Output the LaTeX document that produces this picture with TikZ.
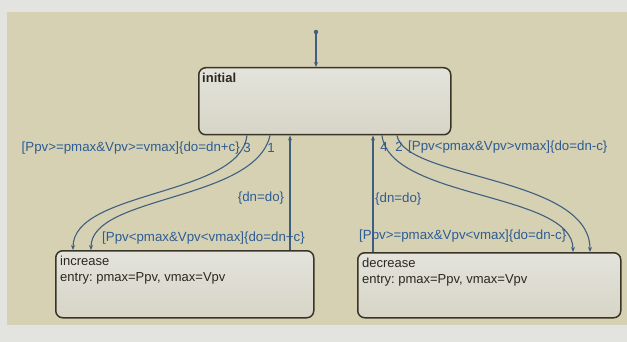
\documentclass[tikz,border=0pt]{standalone}
\usepackage{fontspec}
\setmainfont{Liberation Sans}
\usetikzlibrary{arrows.meta}
\frenchspacing

\definecolor{outerbg}{HTML}{E3E3DF}
\definecolor{canvas}{HTML}{D6D1B2}
\definecolor{statetop}{HTML}{E4E3DC}
\definecolor{statebottom}{HTML}{D7D5C6}
\definecolor{stateline}{HTML}{3A3426}
\definecolor{statetextcol}{HTML}{2B281E}
\definecolor{transline}{HTML}{3F5F80}
\definecolor{guardtext}{HTML}{2E5C93}

\tikzstyle{state}=[draw=stateline, line width=1.5pt, rounded corners=7pt, top color=statetop, bottom color=statebottom, inner sep=0pt, anchor=north west]
\tikzstyle{statetext}=[anchor=north west, inner sep=0pt, align=left, text=statetextcol, font=\fontsize{13}{16}\selectfont]
\tikzstyle{trans}=[draw=transline, line width=1.1pt, ->]
\tikzstyle{guard}=[inner sep=0pt, text=guardtext, font=\fontsize{13.3}{15}\selectfont]

\begin{document}
\begin{tikzpicture}[x=1pt, y=-1pt, >={Stealth[length=5pt,width=4pt]}]
	%Background
	\useasboundingbox (0,0) rectangle (627,342);
	\fill[outerbg] (0,0) rectangle (627,342);
	\fill[canvas] (7,12) rectangle (627,325);
	%Adding the states
	\foreach \pos/\w/\h/\name in {{(198,67)/252/67/initial}, {(55,250)/258/67/increase},
									{(357,252)/263/65/decrease}}
		\node[state, minimum width=\w pt, minimum height=\h pt] (\name) at \pos {};
	%Adding the state texts
	\node[statetext, font={\fontsize{13}{16}\selectfont\bfseries}] (initial text) at ([shift={(4,6)}]initial.north west) {initial};
	\node[statetext] (increase text) at ([shift={(5,6)}]increase.north west) {increase\\entry: pmax=Ppv, vmax=Vpv};
	\node[statetext] (decrease text) at ([shift={(5,6)}]decrease.north west) {decrease\\entry: pmax=Ppv, vmax=Vpv};
	%Adding the default transition
	\coordinate (default) at (316,32);
	\fill[transline] (default) circle (2.2pt);
	\draw[trans] (default) -- (default |- initial.north);
	%Adding the transitions to increase and decrease
	\draw[trans] ([xshift=49pt]initial.south west) .. controls +(-7,61) and +(0,-60) .. ([xshift=18pt]increase.north west);
	\draw[trans] ([xshift=72pt]initial.south west) .. controls +(-15,66) and +(0,-55) .. ([xshift=36pt]increase.north west);
	\draw[trans] ([xshift=184pt]initial.south west) .. controls +(8,64) and +(0,-60) .. ([xshift=216pt]decrease.north west);
	\draw[trans] ([xshift=199pt]initial.south west) .. controls +(8,44) and +(0,-76) .. ([xshift=233pt]decrease.north west);
	%Adding the transitions back to initial
	\coordinate (back left) at ([xshift=235pt]increase.north west);
	\coordinate (back right) at ([xshift=16pt]decrease.north west);
	\draw[trans] (back left) -- (back left |- initial.south);
	\draw[trans] (back right) -- (back right |- initial.south);
	%Adding the guards and numbers
	\node[guard, anchor=east] (guard three) at (240,148) {[Ppv>=pmax\&Vpv>=vmax]\{do=dn+c\}};
	\node[guard] (num three) at (247,148) {3};
	\node[guard] (num one) at (271,148) {1};
	\node[guard] (action left) at (261,198) {\{dn=do\}};
	\node[guard, anchor=west] (guard one) at (102,238) {[Ppv<pmax\&Vpv<vmax]\{do=dn+c\}};
	\node[guard] (num four) at (384,147) {4};
	\node[guard] (num two) at (399,147) {2};
	\node[guard, anchor=west] (guard two) at (408,147) {[Ppv<pmax\&Vpv>vmax]\{do=dn-c\}};
	\node[guard, anchor=west] (action right) at (375,199) {\{dn=do\}};
	\node[guard, anchor=west] (guard four) at (359,236) {[Ppv>=pmax\&Vpv<vmax]\{do=dn-c\}};
\end{tikzpicture}
\end{document}
